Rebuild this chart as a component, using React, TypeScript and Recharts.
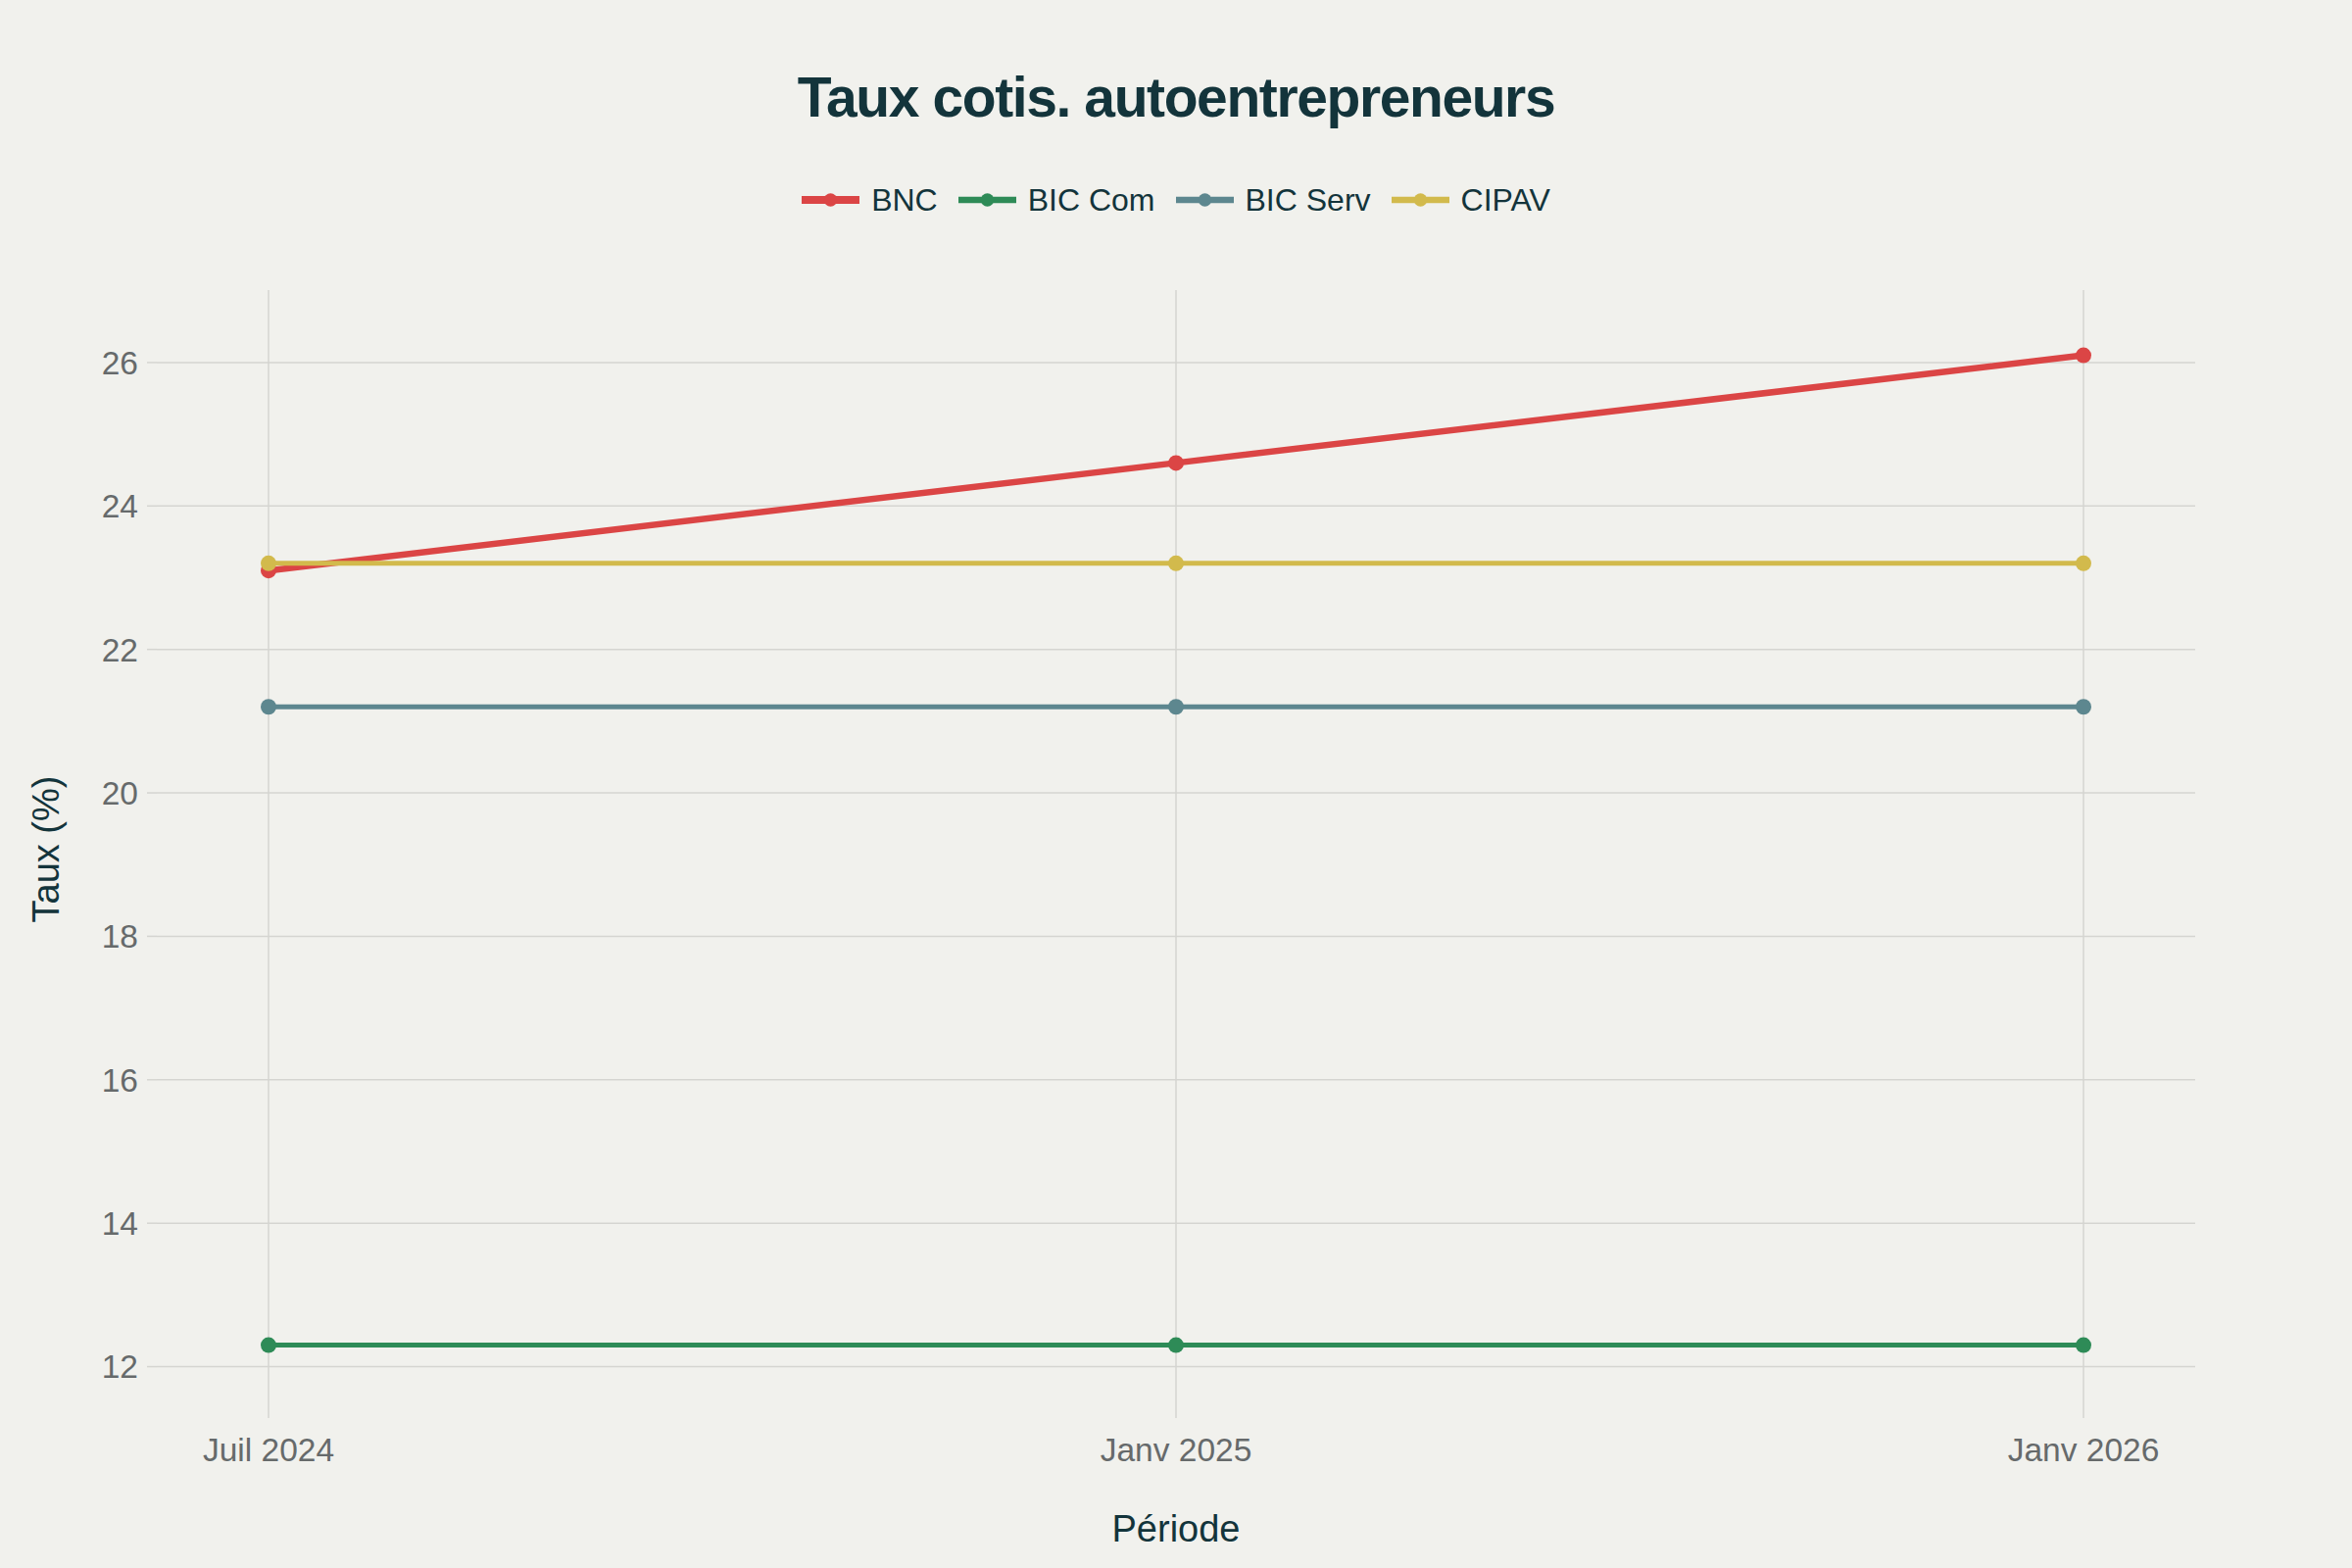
import React from 'react';
import { LineChart, Line, XAxis, YAxis, CartesianGrid, Legend } from 'recharts';

const periods = ['Juil 2024', 'Janv 2025', 'Janv 2026'];
const bnc = [23.1, 24.6, 26.1];
const bicCom = [12.3, 12.3, 12.3];
const bicServ = [21.2, 21.2, 21.2];
const cipav = [23.2, 23.2, 23.2];
const yTicks = [12, 14, 16, 18, 20, 22, 24, 26];
const seriesNames = ['BNC', 'BIC Com', 'BIC Serv', 'CIPAV'];
const seriesValues = [bnc, bicCom, bicServ, cipav];

const colors: Record<string, string> = {
  BNC: '#DB4545',
  'BIC Com': '#2E8B57',
  'BIC Serv': '#5D878F',
  CIPAV: '#D2BA4C',
};
const lineWidths: Record<string, number> = { BNC: 6.5, 'BIC Com': 5, 'BIC Serv': 5, CIPAV: 5 };
const legendWidths: Record<string, number> = { BNC: 8, 'BIC Com': 6.5, 'BIC Serv': 6.5, CIPAV: 6.5 };

const data = periods.map((p, i) => {
  const row: Record<string, string | number> = { period: p };
  seriesNames.forEach((n, k) => {
    row[n] = seriesValues[k][i];
  });
  return row;
});

const FONT = "'Liberation Sans', Arial, sans-serif";
const DARK = '#13343B';
const TICK = '#666a6b';
const GRID = '#d5d5d1';
const BG = '#f1f1ed';

const renderLegend = (props: any) => {
  const payload = ([...(props.payload || [])] as any[]).sort(
    (a, b) => seriesNames.indexOf(a.value) - seriesNames.indexOf(b.value)
  );
  return (
    <div style={{ position: 'relative', height: 0 }}>
      <div
        style={{
          position: 'absolute',
          left: 0,
          top: 0,
          width: 2400,
          height: 40,
          display: 'flex',
          justifyContent: 'center',
          alignItems: 'center',
          fontFamily: FONT,
          fontSize: 32,
          color: DARK,
        }}
      >
        {payload.map((entry: any, i: number) => {
          const name = entry.value as string;
          const c = colors[name] || entry.color;
          return (
            <div
              key={name}
              style={{ display: 'flex', alignItems: 'center', marginLeft: i === 0 ? 0 : 21 }}
            >
              <svg width={59} height={20} style={{ display: 'block', marginRight: 12 }}>
                <line x1={0} y1={10} x2={59} y2={10} stroke={c} strokeWidth={legendWidths[name]} />
                <circle cx={29.5} cy={10} r={6.7} fill={c} />
              </svg>
              <span style={{ whiteSpace: 'nowrap', lineHeight: '40px' }}>{name}</span>
            </div>
          );
        })}
      </div>
    </div>
  );
};

const YTitle = (props: any) => {
  const vb = props.viewBox || { x: 0, y: 0, width: 0, height: 0 };
  const x = vb.x + 60;
  const y = vb.y + vb.height / 2;
  return (
    <text
      x={x}
      y={y}
      transform={`rotate(-90, ${x}, ${y})`}
      textAnchor="middle"
      fontSize={38}
      fontFamily={FONT}
      fill={DARK}
    >
      Taux (%)
    </text>
  );
};

const XTitle = (props: any) => {
  const vb = props.viewBox || { x: 0, y: 0, width: 0, height: 0 };
  return (
    <text
      x={vb.x + vb.width / 2}
      y={vb.y + 136}
      textAnchor="middle"
      fontSize={38}
      fontFamily={FONT}
      fill={DARK}
    >
      Période
    </text>
  );
};

export default function App() {
  return (
    <div
      style={{
        position: 'absolute',
        left: 0,
        top: 0,
        width: 2400,
        height: 1600,
        background: BG,
        fontFamily: FONT,
      }}
    >
      <div
        style={{
          position: 'absolute',
          left: 0,
          top: 71,
          width: 2400,
          textAlign: 'center',
          fontSize: 57,
          lineHeight: '57px',
          fontWeight: 700,
          letterSpacing: '-1.4px',
          color: DARK,
          fontFamily: FONT,
        }}
      >
        Taux cotis. autoentrepreneurs
      </div>
      <LineChart
        width={2400}
        height={1600}
        data={data}
        margin={{ top: 296, right: 160, bottom: 0, left: 0 }}
      >
        <CartesianGrid stroke={GRID} strokeWidth={1.5} syncWithTicks={true} />
        <XAxis
          dataKey="period"
          type="category"
          height={163}
          padding={{ left: 114, right: 114 }}
          axisLine={false}
          tickLine={{ stroke: GRID, strokeWidth: 1.5 }}
          tickSize={10}
          tickMargin={20}
          tick={{ fill: TICK, fontSize: 33.5, fontFamily: FONT }}
          interval={0}
          label={<XTitle />}
        />
        <YAxis
          type="number"
          width={160}
          domain={[11.42, 27.01]}
          allowDataOverflow={true}
          ticks={yTicks}
          axisLine={false}
          tickLine={{ stroke: GRID, strokeWidth: 1.5 }}
          tickSize={10}
          tickMargin={9}
          tick={{ fill: TICK, fontSize: 33.5, fontFamily: FONT }}
          label={<YTitle />}
        />
        <Legend
          verticalAlign="top"
          align="center"
          content={renderLegend}
          wrapperStyle={{ top: 184, left: 0, width: 2400 }}
        />
        {seriesNames.map((n) => (
          <Line
            key={n}
            type="linear"
            dataKey={n}
            name={n}
            stroke={colors[n]}
            strokeWidth={lineWidths[n]}
            dot={{ r: 8, fill: colors[n], stroke: colors[n], strokeWidth: 0 }}
            activeDot={false}
            isAnimationActive={false}
          />
        ))}
      </LineChart>
    </div>
  );
}
